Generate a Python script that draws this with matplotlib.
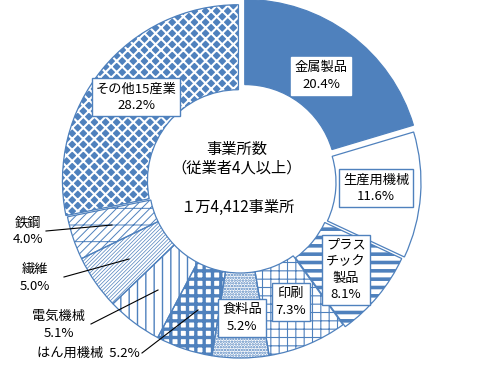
import matplotlib.pyplot as plt
import numpy as np

plt.rcParams['font.family'] = ['Noto Sans CJK JP', 'DejaVu Sans']

# data (share of establishments, %)
industries = ['金属製品', '生産用機械', 'プラスチック製品', '印刷', '食料品',
              'はん用機械', '電気機械', '繊維', '鉄鋼', 'その他15産業']
shares = [20.4, 11.6, 8.1, 7.3, 5.2, 5.2, 5.1, 5.0, 4.0, 28.2]
label_text = ['金属製品\n20.4%', '生産用機械\n11.6%', 'プラス\nチック\n製品\n8.1%',
              '印刷\n7.3%', '食料品\n5.2%', 'はん用機械  5.2%', '電気機械\n5.1%',
              '繊維\n5.0%', '鉄鋼\n4.0%', 'その他15産業\n28.2%']
center_text = ['事業所数', '（従業者4人以上）', '１万4,412事業所']

BLUE = '#4F81BD'
W, H = 491, 377

def Y(y):
    return H - y

fig = plt.figure(figsize=(W / 100, H / 100), dpi=100)
ax = fig.add_axes([0, 0, 1, 1])

cx, cy, R = 240, 182, 176
explode = [8, 5, 3, 0, 0, 0, 0, 0, 0, 2]

# face, hatch, hatch colour, hatch linewidth
styles = [
    (BLUE, None, BLUE, 1.0),
    ('white', None, BLUE, 1.0),
    ('white', '--', BLUE, 2.6),
    ('white', '++', BLUE, 0.8),
    ('white', '......', BLUE, 1.2),
    ('white', '++', BLUE, 2.4),
    ('white', '||', BLUE, 1.0),
    ('white', '/////////', BLUE, 0.5),
    ('white', '////-', BLUE, 0.7),
    (BLUE, 'xxx', 'white', 1.5),
]

wedges, _ = ax.pie(shares, radius=R, center=(cx, Y(cy)), startangle=90,
                   counterclock=False, explode=explode,
                   wedgeprops=dict(width=85, linewidth=0))
for w, (fc, hatch, hc, hlw) in zip(wedges, styles):
    w.set_facecolor(fc)
    w.set_edgecolor(hc)
    w.set_linewidth(0)
    if hatch:
        w.set_hatch(hatch)
        try:
            w.set_hatch_linewidth(hlw)
        except AttributeError:
            plt.rcParams['hatch.linewidth'] = hlw

# blue outlines
outl, _ = ax.pie(shares, radius=R, center=(cx, Y(cy)), startangle=90,
                 counterclock=False, explode=explode,
                 wedgeprops=dict(width=85, facecolor='none', edgecolor=BLUE,
                                 linewidth=0.9))

# labels inside slices
inside = {0: (321, 76, False), 1: (376, 188, True), 2: (346, 270, True),
          3: (291, 302, True), 4: (242, 318, True), 9: (136, 97, True)}
for i, (x, y, border) in inside.items():
    ax.text(x, Y(y), label_text[i], ha='center', va='center', fontsize=9.5,
            linespacing=1.35,
            bbox=dict(boxstyle='square,pad=0.3', facecolor='white',
                      edgecolor=BLUE if border else 'white', linewidth=1))

# outside labels with leader lines
outside = {8: (28, 231, (46, 231), (112, 225)),
           7: (35, 278, (64, 277), (129, 259)),
           6: (59, 325, (91, 324), (158, 290)),
           5: (88, 353, (142, 353), (198, 310))}
for i, (x, y, p0, p1) in outside.items():
    ax.text(x, Y(y), label_text[i], ha='center', va='center', fontsize=9.5,
            linespacing=1.35)
    ax.plot([p0[0], p1[0]], [Y(p0[1]), Y(p1[1])], color='black', lw=0.8)

# center text
ax.text(237, Y(149), center_text[0], ha='center', va='center', fontsize=11)
ax.text(237, Y(168), center_text[1], ha='center', va='center', fontsize=11)
ax.text(237, Y(207), center_text[2], ha='center', va='center', fontsize=11)

ax.set_xlim(0, W)
ax.set_ylim(0, H)
ax.set_aspect('equal')
ax.axis('off')

fig.savefig('out.png', dpi=100)
